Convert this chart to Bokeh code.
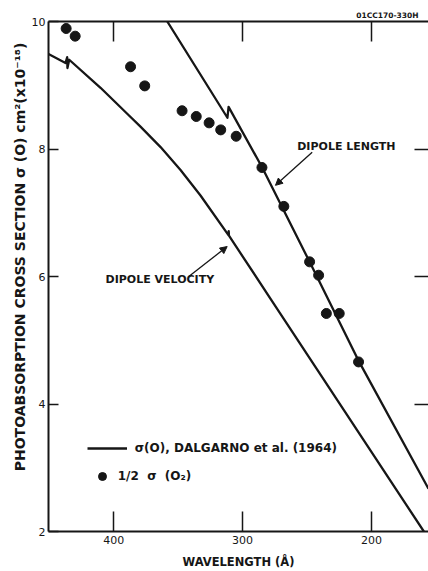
from bokeh.plotting import figure
from bokeh.models import (Range1d, LinearAxis, FixedTicker, Label, Legend, LegendItem,
                          Arrow, NormalHead)
from bokeh.embed import file_html
from bokeh.resources import INLINE

# ---- data ----
# measured 1/2 sigma(O2) points
wl_o2 = [437, 430, 387, 376, 347, 336, 326, 317, 305, 285, 268, 248, 241, 235, 225, 210]
half_sigma_o2 = [9.89, 9.77, 9.29, 8.99, 8.60, 8.51, 8.41, 8.30, 8.20, 7.71, 7.10, 6.23, 6.02, 5.42, 5.42, 4.66]

# Dalgarno et al. (1964) dipole length curve
length_wl = [358.5, 311.8, 310.9, 284.8, 248.0, 209.5, 155.7]
length_sigma = [10.0, 8.49, 8.66, 7.71, 6.23, 4.66, 2.67]

# Dalgarno et al. (1964) dipole velocity curve
velocity_wl = [450.7, 437.5, 436.2, 436.0, 434.6, 410.3, 388.4, 379.3, 363.7, 348.2, 332.7,
               311.0, 310.8, 310.6, 278.3, 242.1, 205.9, 159.3]
velocity_sigma = [9.49, 9.35, 9.44, 9.27, 9.40, 8.96, 8.53, 8.35, 8.03, 7.67, 7.27,
                  6.65, 6.71, 6.64, 5.65, 4.54, 3.43, 2.00]

x_ticks = [400, 300, 200]
y_ticks = [2, 4, 6, 8, 10]
y_ticks_right = [4, 6, 8]

# annotation anchors (wavelength, sigma)
length_label = (257.6, 8.04)
length_arrow = (246.0, 7.95, 274.5, 7.43)
velocity_label = (406.4, 5.95)
velocity_arrow = (341.8, 6.0, 312.0, 6.47)

INK = "#161616"
FONT = "DejaVu Sans"

p = figure(width=428, height=571, x_range=Range1d(450.7, 155.7), y_range=Range1d(2, 10),
           output_backend="svg", toolbar_location=None,
           min_border_left=48, min_border_right=0, min_border_top=21, min_border_bottom=38)
p.outline_line_color = None
p.grid.visible = False
p.background_fill_color = "white"
p.border_fill_color = "white"

# figure number in the top-right corner
p.title.text = "01CC170-330H"
p.title.align = "right"
p.title.text_font = FONT
p.title.text_font_style = "bold"
p.title.text_font_size = "7.5px"
p.title.text_color = INK
p.title.standoff = 3
p.title.offset = 10

# bottom axis
xa = p.xaxis[0]
xa.ticker = FixedTicker(ticks=x_ticks)
xa.major_tick_in = 20
xa.major_tick_out = 0
xa.minor_tick_line_color = None
xa.axis_line_width = 2
xa.axis_line_color = INK
xa.major_tick_line_width = 1.5
xa.major_tick_line_color = INK
xa.major_label_standoff = 4
xa.major_label_text_font = FONT
xa.major_label_text_font_size = "11px"
xa.major_label_text_color = INK
xa.axis_label = "WAVELENGTH (Å)"
xa.axis_label_text_font = FONT
xa.axis_label_text_font_style = "bold"
xa.axis_label_text_font_size = "11.5px"
xa.axis_label_text_color = INK
xa.axis_label_standoff = 8

# left axis (label sits high along the axis in the reference: leading no-break spaces)
ya = p.yaxis[0]
ya.ticker = FixedTicker(ticks=y_ticks)
ya.major_tick_in = 10
ya.major_tick_out = 0
ya.minor_tick_line_color = None
ya.axis_line_width = 2
ya.axis_line_color = INK
ya.major_tick_line_width = 1.5
ya.major_tick_line_color = INK
ya.major_label_standoff = 3
ya.major_label_text_font = FONT
ya.major_label_text_font_size = "11px"
ya.major_label_text_color = INK
ya.axis_label = "\u00a0" * 13 + "PHOTOABSORPTION  CROSS  SECTION  σ  (O)  cm²(x10⁻¹⁸)"
ya.axis_label_text_font = FONT
ya.axis_label_text_font_style = "bold"
ya.axis_label_text_font_size = "14px"
ya.axis_label_text_color = INK
ya.axis_label_standoff = 1

# top border with inward ticks (minor ticks carry no labels)
top = LinearAxis(ticker=FixedTicker(ticks=[], minor_ticks=x_ticks),
                 major_tick_in=0, major_tick_out=0,
                 minor_tick_in=20, minor_tick_out=0, minor_tick_line_width=1.5,
                 minor_tick_line_color=INK, axis_line_width=2, axis_line_color=INK)
p.add_layout(top, "above")

# right side: inward ticks only (the frame edge lies outside the picture)
right = LinearAxis(ticker=FixedTicker(ticks=[], minor_ticks=y_ticks_right),
                   major_tick_in=0, major_tick_out=0,
                   minor_tick_in=14, minor_tick_out=0, minor_tick_line_width=1.5,
                   minor_tick_line_color=INK, axis_line_color=None)
p.add_layout(right, "right")

# curves and points
r_len = p.line(length_wl, length_sigma, line_color=INK, line_width=2.3, line_join="round")
r_vel = p.line(velocity_wl, velocity_sigma, line_color=INK, line_width=2.3, line_join="round")
r_pts = p.scatter(wl_o2, half_sigma_o2, size=10, marker="circle",
                  fill_color=INK, line_color=INK)

# labels
p.add_layout(Label(x=length_label[0], y=length_label[1], text="DIPOLE  LENGTH",
                   text_font=FONT, text_font_style="bold", text_font_size="11px",
                   text_color=INK, text_baseline="middle", text_align="left"))
p.add_layout(Label(x=velocity_label[0], y=velocity_label[1], text="DIPOLE  VELOCITY",
                   text_font=FONT, text_font_style="bold", text_font_size="11px",
                   text_color=INK, text_baseline="middle", text_align="left"))

for (x0, y0, x1, y1) in (length_arrow, velocity_arrow):
    p.add_layout(Arrow(x_start=x0, y_start=y0, x_end=x1, y_end=y1, line_width=1.3,
                       line_color=INK,
                       end=NormalHead(size=7, fill_color=INK, line_color=INK)))

# legends
leg1 = Legend(items=[LegendItem(label="σ(O), DALGARNO et al. (1964)", renderers=[r_len])],
              location=(38.7, 72.7), padding=0, margin=0, glyph_width=40, glyph_height=20,
              label_height=20, label_standoff=8, label_text_font=FONT,
              label_text_font_style="bold", label_text_font_size="12px",
              label_text_color=INK, background_fill_alpha=0, border_line_alpha=0)
leg2 = Legend(items=[LegendItem(label="1/2  σ  (O₂)", renderers=[r_pts])],
              location=(43.7, 45.4), padding=0, margin=0, glyph_width=20, glyph_height=20,
              label_height=20, label_standoff=6, label_text_font=FONT,
              label_text_font_style="bold", label_text_font_size="12px",
              label_text_color=INK, background_fill_alpha=0, border_line_alpha=0)
p.add_layout(leg1, "center")
p.add_layout(leg2, "center")

open("out.html", "w").write(file_html(p, INLINE))
